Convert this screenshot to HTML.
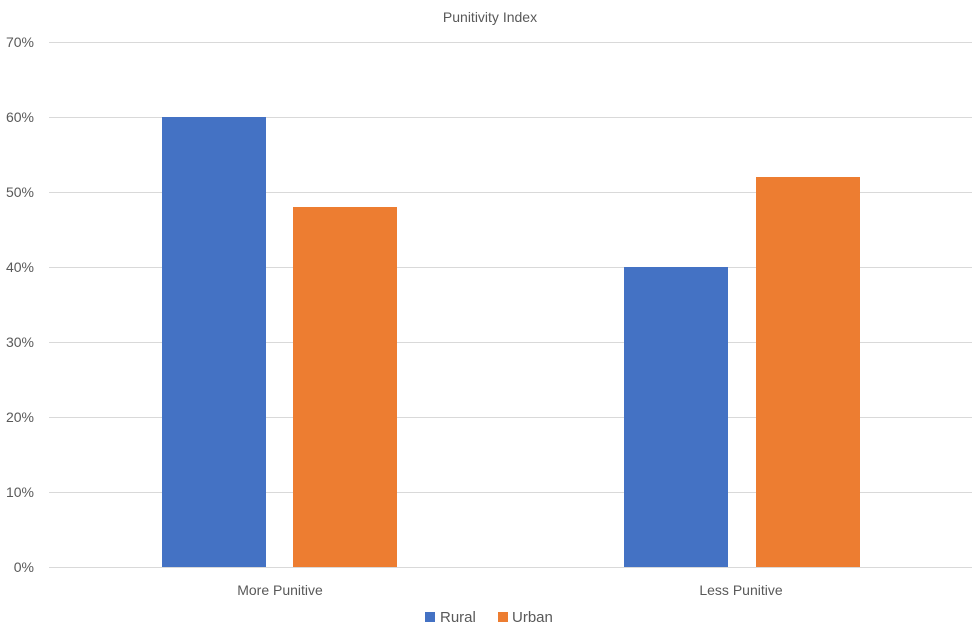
<!DOCTYPE html>
<html><head><style>
body{margin:0;background:#fff;}
svg text{font-family:"Liberation Sans",sans-serif;fill:#595959;}
</style></head><body>
<svg width="980" height="636" xmlns="http://www.w3.org/2000/svg">
<rect width="980" height="636" fill="#fff"/>
<text x="490" y="22" font-size="14" text-anchor="middle">Punitivity Index</text>
<g stroke="#d9d9d9" stroke-width="1">
<line x1="49" y1="42.5" x2="972" y2="42.5"/>
<line x1="49" y1="117.5" x2="972" y2="117.5"/>
<line x1="49" y1="192.5" x2="972" y2="192.5"/>
<line x1="49" y1="267.5" x2="972" y2="267.5"/>
<line x1="49" y1="342.5" x2="972" y2="342.5"/>
<line x1="49" y1="417.5" x2="972" y2="417.5"/>
<line x1="49" y1="492.5" x2="972" y2="492.5"/>
<line x1="49" y1="567.5" x2="972" y2="567.5"/>
</g>
<g font-size="14" text-anchor="end">
<text x="34" y="47">70%</text>
<text x="34" y="122">60%</text>
<text x="34" y="197">50%</text>
<text x="34" y="272">40%</text>
<text x="34" y="347">30%</text>
<text x="34" y="422">20%</text>
<text x="34" y="497">10%</text>
<text x="34" y="572">0%</text>
</g>
<rect x="162" y="117" width="104" height="450" fill="#4472c4"/>
<rect x="293" y="207" width="104" height="360" fill="#ed7d31"/>
<rect x="624" y="267" width="104" height="300" fill="#4472c4"/>
<rect x="756" y="177" width="104" height="390" fill="#ed7d31"/>
<g font-size="14" text-anchor="middle">
<text x="280" y="595">More Punitive</text>
<text x="741" y="595">Less Punitive</text>
</g>
<rect x="425" y="612" width="10" height="10" fill="#4472c4"/>
<text x="440" y="622" font-size="15">Rural</text>
<rect x="498" y="612" width="10" height="10" fill="#ed7d31"/>
<text x="512" y="622" font-size="15">Urban</text>
</svg>
</body></html>
